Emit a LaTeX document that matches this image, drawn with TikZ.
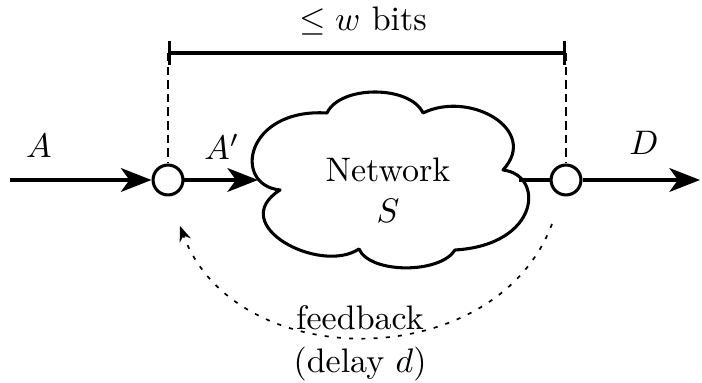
\documentclass[tikz,border=0pt]{standalone}
\usetikzlibrary{arrows.meta}
\begin{document}
\begin{tikzpicture}[x=0.294pt,y=-0.294pt,
  flow/.style={line width=0.9pt},
  tip/.style={-{Stealth[length=9pt,width=7pt,inset=2.5pt]}},
  port/.style={circle,draw,line width=0.9pt,minimum size=8.8pt,inner sep=0pt},
  guide/.style={line width=0.4pt, dash pattern=on 2.5pt off 1.5pt},
  fb/.style={line width=0.5pt, dash pattern=on 1.2pt off 2.4pt, -{Stealth[length=4.5pt,width=3.5pt]}},
  cloudline/.style={line width=0.9pt, line join=round}
]
\useasboundingbox (0,0) rectangle (702,383);
\node[port] (in) at (168,180) {};
\node[port] (out) at (566,180) {};
% cloud
\draw[cloudline] (280,190) .. controls (232,185) and (245,108) .. (327,113)
  .. controls (340,85) and (410,85) .. (423,113)
  .. controls (470,90) and (540,130) .. (503,170)
  .. controls (545,175) and (540,245) .. (455,250)
  .. controls (440,274) and (370,274) .. (359,249)
  .. controls (320,275) and (225,225) .. (280,190) -- cycle;
\coordinate (clw) at (258,180);
\coordinate (cle) at (519,180);
\node[align=center] (nettext) at (388,190) {Network\\$S$};
\coordinate (src) at (10,180);
\coordinate (sink) at (700,180);
\draw[flow,tip] (src) -- (in);
\draw[flow,tip] (in) -- (clw);
\draw[flow] (cle) -- (out);
\draw[flow,tip] (out) -- (sink);
\node (la) at (39,146) {$A$};
\node (lap) at (222,147) {$A'$};
\node (ld) at (644,143) {$D$};
\coordinate (bl) at (168,53);
\coordinate (br) at (566,53);
\draw[flow,{Bar[width=7pt]}-{Bar[width=7pt]}] (bl) -- (br);
\node (lw) at (363,21) {$\leq w$ bits};
\draw[guide] (bl) -- (in);
\draw[guide] (br) -- (out);
\coordinate (fbs) at (552,224);
\coordinate (fbe) at (180,226);
\draw[fb] (fbs) .. controls (495,375) and (235,375) .. (fbe);
\node (lf) at (360,318) {feedback};
\node (ldl) at (360,364) {(delay $d$)};
\end{tikzpicture}
\end{document}
